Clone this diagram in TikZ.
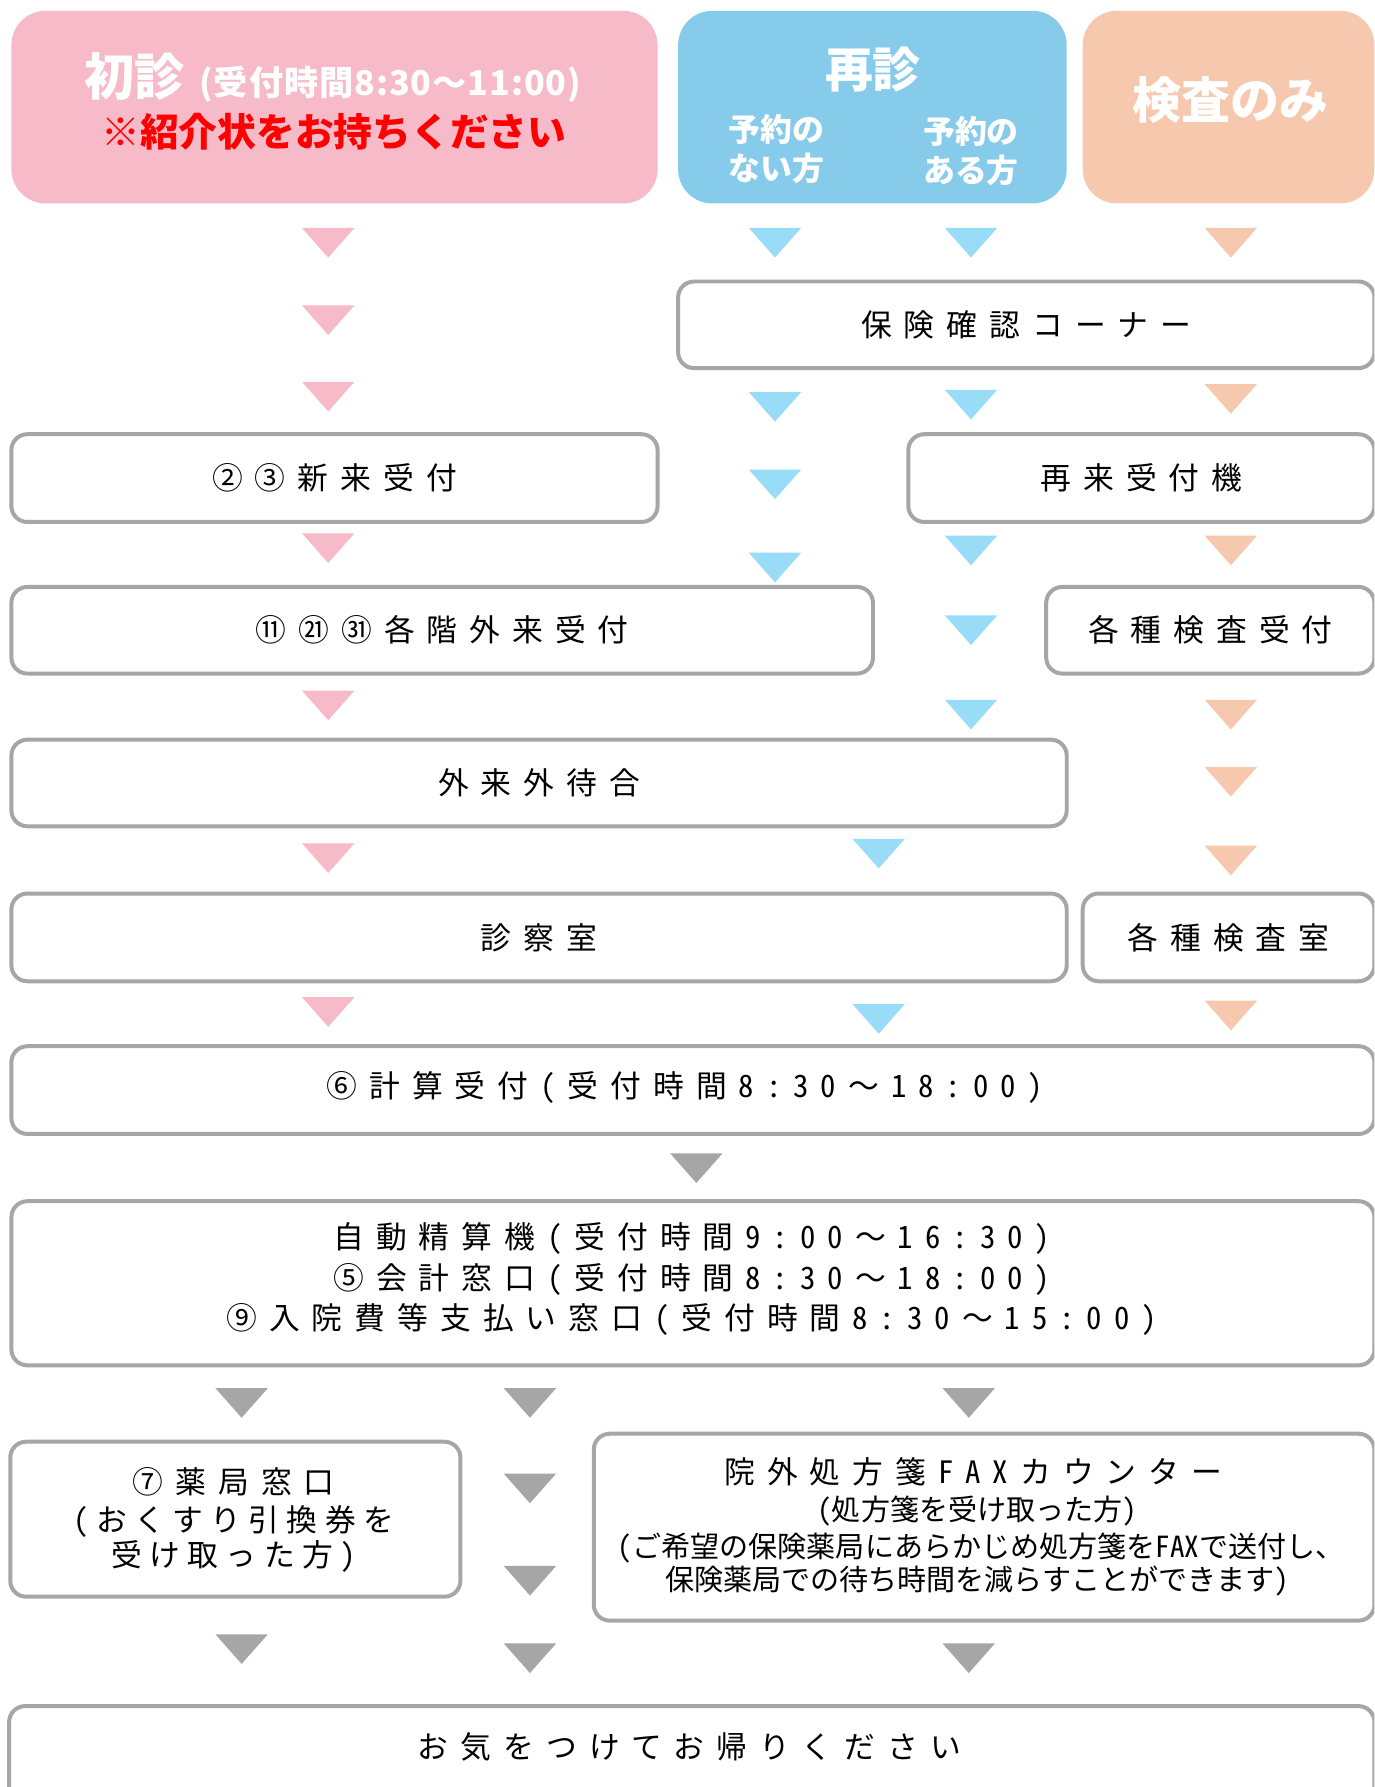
\documentclass[tikz,border=0pt]{standalone}
\usepackage{fontspec}
\setmainfont{Noto Sans CJK JP}
\newfontfamily\ls[LetterSpace=39]{Noto Sans CJK JP}
\newfontfamily\lsh[LetterSpace=39,RawFeature=+hwid]{Noto Sans CJK JP}
\newfontfamily\lsn[LetterSpace=24]{Noto Sans CJK JP}
\newfontfamily\lsnh[LetterSpace=24,RawFeature=+hwid]{Noto Sans CJK JP}
\newfontfamily\hwf[RawFeature=+hwid]{Noto Sans CJK JP}
\newfontfamily\hbf[LetterSpace=2.7]{Noto Sans CJK JP}
\newcommand\hh[1]{\kern10.5pt{\lsh #1}\kern10.5pt}
\newcommand\hhl[1]{\kern10.5pt{\lsh #1}}
\newcommand\hsa[1]{{\lsnh #1}\kern6.5pt}
\newcommand\hsb[1]{\kern6.5pt{\lsnh #1}}
\newcommand\hn[1]{{\hwf #1}}
\definecolor{pinkc}{HTML}{F7BAC9}
\definecolor{bluec}{HTML}{87CBEB}
\definecolor{orangec}{HTML}{F6C8AE}
\definecolor{bluet}{HTML}{99DCF8}
\definecolor{grayc}{HTML}{A6A6A6}
\definecolor{redc}{HTML}{FF0000}
\newcommand\dtri[3]{\fill[#1] ({#2-23},#3) -- ({#2+23},#3) -- (#2,{#3+26}) -- cycle;}
\begin{document}
\begin{tikzpicture}[x=1pt,y=-1pt,
  box/.style={draw=grayc, line width=3.5pt, rounded corners=14pt, fill=white,
    inner sep=0pt, align=center, font=\ls\fontsize{27}{35.5}\selectfont},
  head/.style={rounded corners=30pt, inner sep=0pt},
  htext/.style={text=white, inner sep=0pt, align=center},
  btext/.style={inner sep=0pt, align=center}]
\useasboundingbox (0,0) rectangle (1206,1568);
\clip (0,0) rectangle (1206,1568);
% header boxes
\node[head, fill=pinkc, minimum width=567pt, minimum height=169pt] (shoshin) at (293.5,94) {};
\node[head, fill=bluec, minimum width=341pt, minimum height=169pt] (saishin) at (765.5,94) {};
\node[head, fill=orangec, minimum width=256pt, minimum height=169pt] (kensa) at (1078,94) {};
\node[htext, font=\bfseries] (t1) at (292,68) {{\fontsize{44}{44}\selectfont 初診}\hspace{13pt}{\hbf\fontsize{30}{30}\selectfont (受付時間8:30～11:00)}};
\node[inner sep=0pt, text=redc, font=\bfseries\fontsize{34}{34}\selectfont] (t2) at (293,115.5) {※紹介状をお持ちください};
\node[htext, font=\bfseries\fontsize{42}{42}\selectfont] (t3) at (766,61) {再診};
\node[htext, font=\bfseries\fontsize{28}{34}\selectfont] (t4) at (681,130.5) {予約の\\ない方};
\node[htext, font=\bfseries\fontsize{28}{34}\selectfont] (t5) at (852,132.5) {予約の\\ある方};
\node[htext, font=\bfseries\fontsize{43}{43}\selectfont] (t6) at (1080,88) {検査のみ};
% boxes
\node[box, minimum width=611pt, minimum height=76pt] (hoken) at (900.5,285) {保険確認コーナー};
\node[box, minimum width=567pt, minimum height=77pt] (shinrai) at (293.5,419.5) {②③新来受付};
\node[box, minimum width=409pt, minimum height=77pt] (sairai) at (1001.5,419.5) {再来受付機};
\node[box, minimum width=756pt, minimum height=76pt] (kakukai) at (388,553) {⑪㉑㉛各階外来受付};
\node[box, minimum width=288pt, minimum height=76pt] (kensauke) at (1062,553) {各種検査受付};
\node[box, minimum width=926pt, minimum height=76pt] (machiai) at (473,687) {外来外待合};
\node[box, minimum width=926pt, minimum height=77pt] (shinsatsu) at (473,822.5) {診察室};
\node[box, minimum width=256pt, minimum height=77pt] (kensashitsu) at (1078,822.5) {各種検査室};
\node[box, minimum width=1196pt, minimum height=77pt] (keisan) at (608,956.5) {};
\node[btext, font=\ls\fontsize{27}{27}\selectfont] (keisant) at (601,954) {⑥計算受付\hh{(}受付時間\hh{8:30}～\hhl{18:00)}};
\node[box, minimum width=1196pt, minimum height=144pt] (seisan) at (608,1126) {};
\node[btext, font=\ls\fontsize{27}{35.5}\selectfont] (seisant) at (607,1122.5) {自動精算機\hh{(}受付時間\hh{9:00}～\hhl{16:30)}\\⑤会計窓口\hh{(}受付時間\hh{8:30}～\hhl{18:00)}\\⑨入院費等支払い窓口\hh{(}受付時間\hh{8:30}～\hhl{15:00)}};
\node[box, minimum width=395pt, minimum height=136pt] (yakkyoku) at (206.5,1333) {};
\node[btext, font=\ls\fontsize{27}{27}\selectfont] (y1) at (205,1300) {⑦薬局窓口};
\node[btext, font=\lsn\fontsize{27}{27}\selectfont] (y2) at (205,1335) {\hsa{(}おくすり引換券を};
\node[btext, font=\lsn\fontsize{27}{27}\selectfont] (y3) at (205,1366) {受け取った方\hsb{)}};
\node[box, minimum width=685pt, minimum height=164pt] (fax) at (863.5,1340) {};
\node[btext, font=\ls\fontsize{27}{27}\selectfont] (f1) at (854,1291) {院外処方箋\hh{FAX}カウンター};
\node[btext, font=\fontsize{25.5}{25.5}\selectfont] (f2) at (857.5,1326) {\hn{(}処方箋を受け取った方\hn{)}};
\node[btext, font=\fontsize{25.5}{25.5}\selectfont] (f3) at (861,1358) {\hn{(}ご希望の保険薬局にあらかじめ処方箋を\hn{FAX}で送付し、};
\node[btext, font=\fontsize{25.5}{25.5}\selectfont] (f4) at (857.5,1387) {保険薬局での待ち時間を減らすことができます\hn{)}};
\node[box, minimum width=1198pt, minimum height=103pt] (kaeri) at (607,1548.5) {};
\node[btext, font=\ls\fontsize{27}{27}\selectfont] (kt) at (605,1533) {お気をつけてお帰りください};
% triangles
\foreach \yy in {200,268,335,468,606,740,875} {\dtri{pinkc}{288}{\yy}}
\foreach \yy in {200,344,412,485} {\dtri{bluet}{680}{\yy}}
\foreach \yy in {200,342,470,540,614} {\dtri{bluet}{852}{\yy}}
\foreach \yy in {736,881} {\dtri{bluet}{771}{\yy}}
\foreach \yy in {200,337,470,614,673,742,878} {\dtri{orangec}{1080}{\yy}}
\dtri{grayc}{611}{1012}
\foreach \yy in {1218,1434} {\dtri{grayc}{212}{\yy}}
\foreach \yy in {1218,1293,1374,1442} {\dtri{grayc}{465}{\yy}}
\foreach \yy in {1218,1442} {\dtri{grayc}{850}{\yy}}
\end{tikzpicture}
\end{document}
